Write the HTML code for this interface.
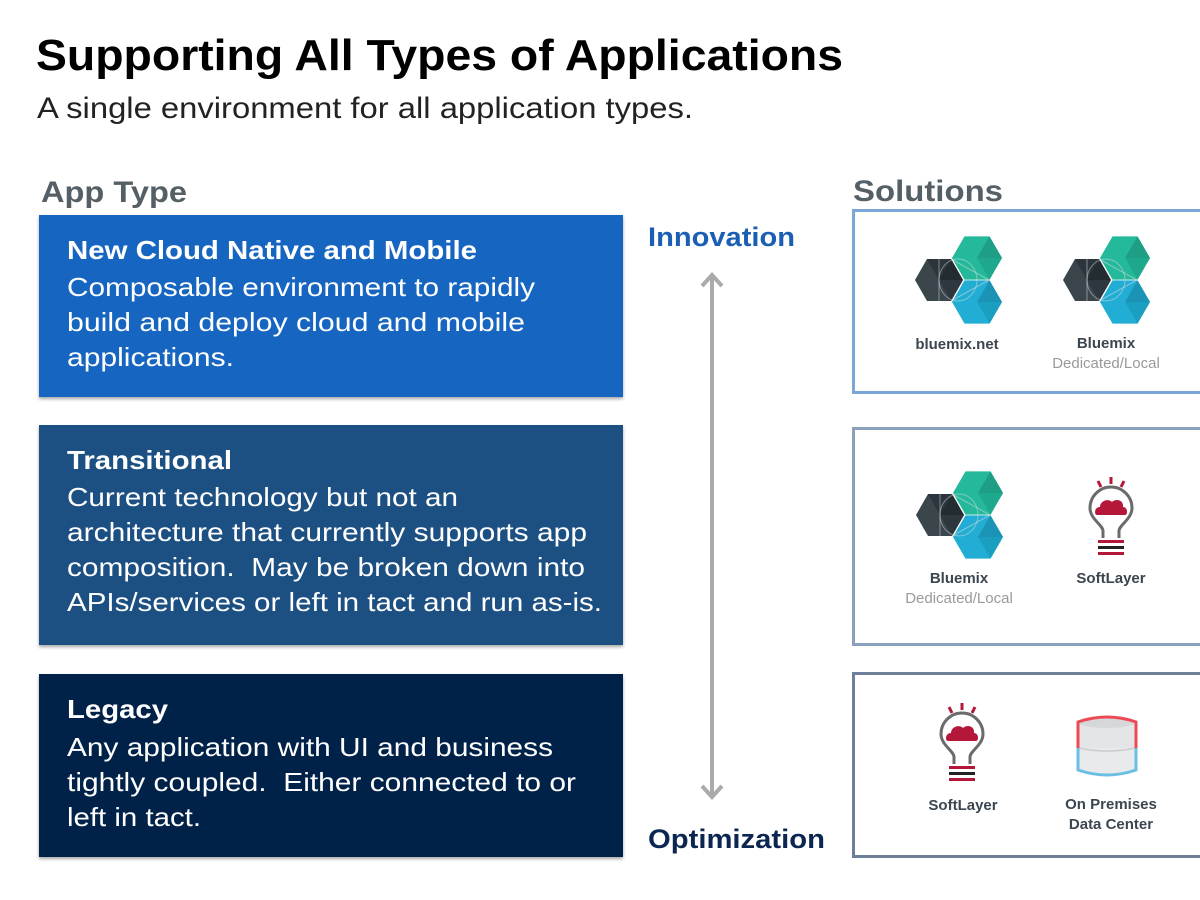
<!DOCTYPE html>
<html><head><meta charset="utf-8"><style>
html,body{margin:0;padding:0;background:#fff;}
svg{display:block;font-family:"Liberation Sans",Arial,sans-serif;}
</style></head><body>
<svg width="1200" height="900" viewBox="0 0 1200 900" xmlns="http://www.w3.org/2000/svg">
<defs>
  <filter id="sh" x="-5%" y="-5%" width="110%" height="115%">
    <feDropShadow dx="0" dy="2" stdDeviation="1.5" flood-color="#000" flood-opacity="0.35"/>
  </filter>
  <g id="bmx">
    <g transform="translate(38,-22)">
      <polygon points="-25,0 -12.5,-21.6 12.5,-21.6 25,0 12.5,21.6 -12.5,21.6" fill="#23b99a"/>
      <polygon points="0,0 12.5,-21.6 25,0" fill="#1e9e84"/>
      <polygon points="0,0 25,0 12.5,21.6" fill="#1fa98c"/>
    </g>
    <g transform="translate(38,22)">
      <polygon points="-25,0 -12.5,-21.6 12.5,-21.6 25,0 12.5,21.6 -12.5,21.6" fill="#22aed4"/>
      <polygon points="0,0 12.5,-21.6 25,0" fill="#1a93b5"/>
      <polygon points="0,0 25,0 12.5,21.6" fill="#1b9fc0"/>
    </g>
    <polygon points="-24,0 -12,-21 12,-21 24,0 12,21 -12,21" fill="#3a454c"/>
    <polygon points="0,0 -12,-21 12,-21" fill="#2b353b"/>
    <polygon points="12,-21 24,0 0,0" fill="#232c31"/>
    <polygon points="24,0 12,21 0,0" fill="#2d373d"/>
    <ellipse cx="19" cy="0" rx="19" ry="21" fill="none" stroke="#ddd" stroke-opacity="0.5" stroke-width="1"/>
    <line x1="0" y1="-21" x2="0" y2="21" stroke="#ddd" stroke-opacity="0.5"/>
    <line x1="12" y1="-21" x2="50" y2="0" stroke="#ddd" stroke-opacity="0.5"/>
    <line x1="12" y1="21" x2="50" y2="0" stroke="#ddd" stroke-opacity="0.5"/>
  </g>
  <g id="bulb">
    <line x1="-13" y1="-30" x2="-10" y2="-24" stroke="#b5173a" stroke-width="3"/>
    <line x1="0" y1="-34" x2="0" y2="-27" stroke="#b5173a" stroke-width="3"/>
    <line x1="13" y1="-30" x2="10" y2="-24" stroke="#b5173a" stroke-width="3"/>
    <path d="M-8,27 L-8,20 C-8,14 -21,8 -21,-3 A21,21 0 1 1 21,-3 C21,8 8,14 8,20 L8,27" fill="none" stroke="#6b6b6b" stroke-width="3"/>
    <path d="M-14,4 C-17,4 -17,-4 -11,-4 C-11,-10 -3,-13 1,-9 C5,-13 13,-11 12,-4 C17,-4 17,4 14,4 Z" fill="#b5173a"/>
    <rect x="-13" y="29" width="26" height="3" fill="#b5173a"/>
    <rect x="-13" y="35" width="26" height="3" fill="#222"/>
    <rect x="-13" y="41" width="26" height="3" fill="#b5173a"/>
  </g>
</defs>

<text x="36" y="70" font-size="44" font-weight="bold" fill="#000" textLength="807" lengthAdjust="spacingAndGlyphs">Supporting All Types of Applications</text>
<text x="37" y="118" font-size="30" fill="#222" textLength="656" lengthAdjust="spacingAndGlyphs">A single environment for all application types.</text>

<text x="41" y="202" font-size="30" font-weight="bold" fill="#555f66" textLength="146" lengthAdjust="spacingAndGlyphs">App Type</text>
<text x="853" y="201" font-size="30" font-weight="bold" fill="#555f66" textLength="150" lengthAdjust="spacingAndGlyphs">Solutions</text>

<rect x="39" y="215" width="584" height="182" fill="#1565c0" filter="url(#sh)"/>
<rect x="39" y="425" width="584" height="220" fill="#1d4f82" filter="url(#sh)"/>
<rect x="39" y="674" width="584" height="183" fill="#03214a" filter="url(#sh)"/>

<g fill="#fff" font-size="26">
<text x="67" y="259" font-weight="bold" textLength="410" lengthAdjust="spacingAndGlyphs">New Cloud Native and Mobile</text>
<text x="67" y="296" textLength="468" lengthAdjust="spacingAndGlyphs">Composable environment to rapidly</text>
<text x="67" y="331" textLength="458" lengthAdjust="spacingAndGlyphs">build and deploy cloud and mobile</text>
<text x="67" y="366" textLength="167" lengthAdjust="spacingAndGlyphs">applications.</text>

<text x="67" y="469" font-weight="bold" textLength="165" lengthAdjust="spacingAndGlyphs">Transitional</text>
<text x="67" y="506" textLength="391" lengthAdjust="spacingAndGlyphs">Current technology but not an</text>
<text x="67" y="541" textLength="520" lengthAdjust="spacingAndGlyphs">architecture that currently supports app</text>
<text x="67" y="576" textLength="518" lengthAdjust="spacingAndGlyphs" xml:space="preserve">composition.  May be broken down into</text>
<text x="67" y="611" textLength="535" lengthAdjust="spacingAndGlyphs">APIs/services or left in tact and run as-is.</text>

<text x="67" y="718" font-weight="bold" textLength="101" lengthAdjust="spacingAndGlyphs">Legacy</text>
<text x="67" y="756" textLength="486" lengthAdjust="spacingAndGlyphs">Any application with UI and business</text>
<text x="67" y="791" textLength="509" lengthAdjust="spacingAndGlyphs" xml:space="preserve">tightly coupled.  Either connected to or</text>
<text x="67" y="826" textLength="134" lengthAdjust="spacingAndGlyphs">left in tact.</text>
</g>

<text x="648" y="246" font-size="27" font-weight="bold" fill="#1a5fb4" textLength="147" lengthAdjust="spacingAndGlyphs">Innovation</text>
<text x="648" y="848" font-size="27" font-weight="bold" fill="#0b2650" textLength="177" lengthAdjust="spacingAndGlyphs">Optimization</text>

<g stroke="#aaa" stroke-width="4" fill="none" stroke-linecap="butt">
<line x1="712" y1="276" x2="712" y2="795"/>
<polyline points="702,286 712,275 722,286"/>
<polyline points="702,786 712,797 722,786"/>
</g>

<rect x="853.5" y="210.5" width="350" height="182" fill="#fff" stroke="#7ba7d6" stroke-width="3"/>
<rect x="853.5" y="428.5" width="350" height="216" fill="#fff" stroke="#8aa0bd" stroke-width="3"/>
<rect x="853.5" y="673.5" width="350" height="183" fill="#fff" stroke="#6e7f99" stroke-width="3"/>

<use href="#bmx" transform="translate(939,280)"/>
<use href="#bmx" transform="translate(1087,280)"/>
<use href="#bmx" transform="translate(940,515)"/>
<use href="#bulb" transform="translate(1111,511)"/>
<use href="#bulb" transform="translate(962,737)"/>

<g>
<path d="M1078,722 Q1107,712 1136,722 L1136,748 L1078,748 Z" fill="#e4e5e7"/>
<path d="M1078,748 L1136,748 L1136,770 Q1107,780 1078,770 Z" fill="#e9eaec"/>
<ellipse cx="1107" cy="722" rx="29" ry="6" fill="#d6d7d9"/>
<path d="M1078,748 Q1107,754 1136,748" fill="none" stroke="#ccc" stroke-width="1.5"/>
<path d="M1078,748 L1078,722 Q1107,712 1136,722 L1136,748" fill="none" stroke="#ee4a55" stroke-width="3"/>
<path d="M1078,748 L1078,770 Q1107,780 1136,770 L1136,748" fill="none" stroke="#6bbfe3" stroke-width="3"/>
</g>

<g font-size="15" font-weight="bold" fill="#3c4650" text-anchor="middle">
<text x="957" y="349">bluemix.net</text>
<text x="1106" y="348">Bluemix</text>
<text x="959" y="583">Bluemix</text>
<text x="1111" y="583">SoftLayer</text>
<text x="963" y="810">SoftLayer</text>
<text x="1111" y="809">On Premises</text>
<text x="1111" y="829">Data Center</text>
</g>
<g font-size="15" fill="#9a9a9a" text-anchor="middle">
<text x="1106" y="368">Dedicated/Local</text>
<text x="959" y="603">Dedicated/Local</text>
</g>
</svg>
</body></html>
